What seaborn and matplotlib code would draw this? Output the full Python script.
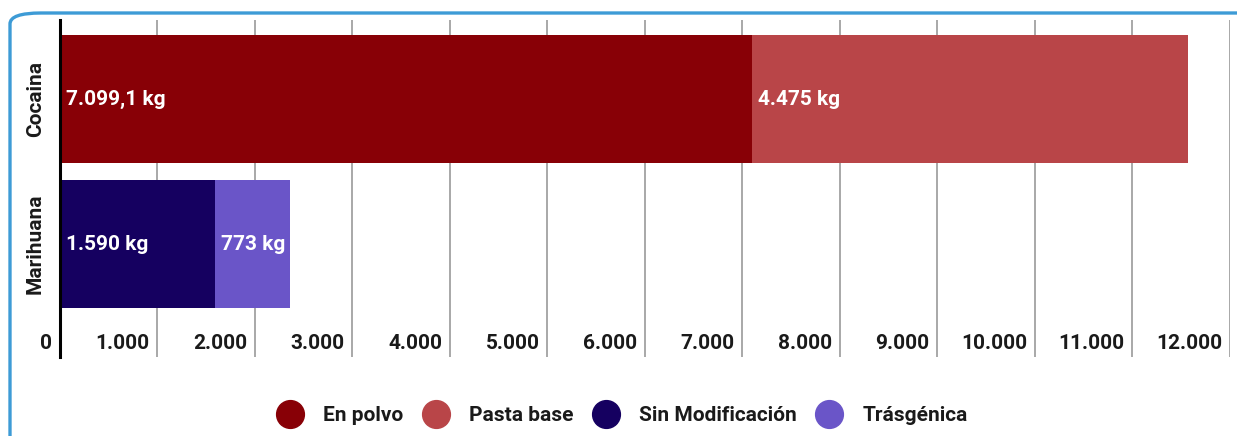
import pandas as pd
import matplotlib.pyplot as plt
import matplotlib.transforms as mtransforms
from matplotlib.lines import Line2D
from matplotlib.patches import FancyBboxPatch
from matplotlib.ticker import FuncFormatter
import seaborn as sns

# Data
drogas = ['Cocaina', 'Marihuana']
tipo_1 = ['En polvo', 'Sin Modificación']
tipo_2 = ['Pasta base', 'Trásgenica']
kg_1 = [7099.1, 1590]
kg_2 = [4475, 773]
colores = {'En polvo': '#880006', 'Pasta base': '#b94548',
           'Sin Modificación': '#150060', 'Trásgenica': '#6a55c8'}
legend_order = ['En polvo', 'Pasta base', 'Sin Modificación', 'Trásgenica']
legend_text = ['En polvo', 'Pasta base', 'Sin Modificación', 'Trásgénica']
x_ticks = list(range(0, 13000, 1000))

df = pd.DataFrame({'droga': drogas, 't1': tipo_1, 't2': tipo_2, 'kg1': kg_1, 'kg2': kg_2})
df['total'] = df['kg1'] + df['kg2']


def fmt_es(v):
    if float(v).is_integer():
        s = f'{int(v):,}'.replace(',', '.')
    else:
        s = f'{v:,.1f}'.replace(',', 'X').replace('.', ',').replace('X', '.')
    return s


sns.set_style('white')
plt.rcParams['font.family'] = ['Roboto', 'DejaVu Sans']

fig = plt.figure(figsize=(12.37, 4.36), dpi=100)
ax = fig.add_axes([0.0485, 0.181, 0.9458, 0.773])

# stacked bars: full totals first, first segment on top
sns.barplot(data=df, y='droga', x='total', hue='t2', palette=colores, dodge=False,
            width=0.88, orient='h', legend=False, ax=ax, saturation=1)
sns.barplot(data=df, y='droga', x='kg1', hue='t1', palette=colores, dodge=False,
            width=0.88, orient='h', legend=False, ax=ax, saturation=1)
for p in ax.patches:
    p.set_linewidth(0)

# value labels
for i, row in df.iterrows():
    for start, val in [(0, row['kg1']), (row['kg1'], row['kg2'])]:
        ax.annotate(f'{fmt_es(val)} kg', xy=(start, i), xytext=(4, 0),
                    textcoords='offset points', ha='left', va='center',
                    color='white', fontsize=15, fontweight='bold')

ax.set_xlim(0, 12000)
ax.set_ylim(1.78, -0.545)
ax.set_xticks(x_ticks)
ax.xaxis.set_major_formatter(FuncFormatter(lambda v, p: fmt_es(v)))
ax.grid(axis='x', color='#9a9a9a', linewidth=1.2)
ax.set_axisbelow(True)
ax.tick_params(axis='x', length=0, pad=-3, labelsize=15, labelcolor='#1a1a1a')
ax.tick_params(axis='y', length=0, pad=11, labelsize=15, labelcolor='#1a1a1a')
offset = mtransforms.ScaledTranslation(-8 / 100, 0, fig.dpi_scale_trans)
for lab in ax.get_xticklabels():
    lab.set_horizontalalignment('right')
    lab.set_verticalalignment('bottom')
    lab.set_transform(lab.get_transform() + offset)
    lab.set_fontweight('bold')
for lab in ax.get_yticklabels():
    lab.set_rotation(90)
    lab.set_va('center')
    lab.set_fontweight('bold')
ax.set_xlabel('')
ax.set_ylabel('')
for s in ['top', 'right', 'bottom']:
    ax.spines[s].set_visible(False)
ax.spines['left'].set_color('black')
ax.spines['left'].set_linewidth(2.2)

# legend
handles = [Line2D([0], [0], marker='o', linestyle='', markersize=20,
                  markerfacecolor=colores[k], markeredgecolor=colores[k])
           for k in legend_order]
leg = fig.legend(handles, legend_text, loc='center', bbox_to_anchor=(0.5, 0.047),
                 ncol=4, frameon=False, handletextpad=0.6,
                 columnspacing=0.55, prop={'weight': 'bold', 'size': 15})
for t in leg.get_texts():
    t.set_color('#1a1a1a')

# rounded frame around the card
frame = FancyBboxPatch((10 / 1237, -0.2), 1.2, 1.2 - 13 / 436,
                       boxstyle='round,pad=0,rounding_size=0.025',
                       transform=fig.transFigure, fill=False,
                       edgecolor='#3d9bd6', linewidth=2.4, zorder=10)
fig.patches.append(frame)

fig.savefig('out.png', dpi=100)
